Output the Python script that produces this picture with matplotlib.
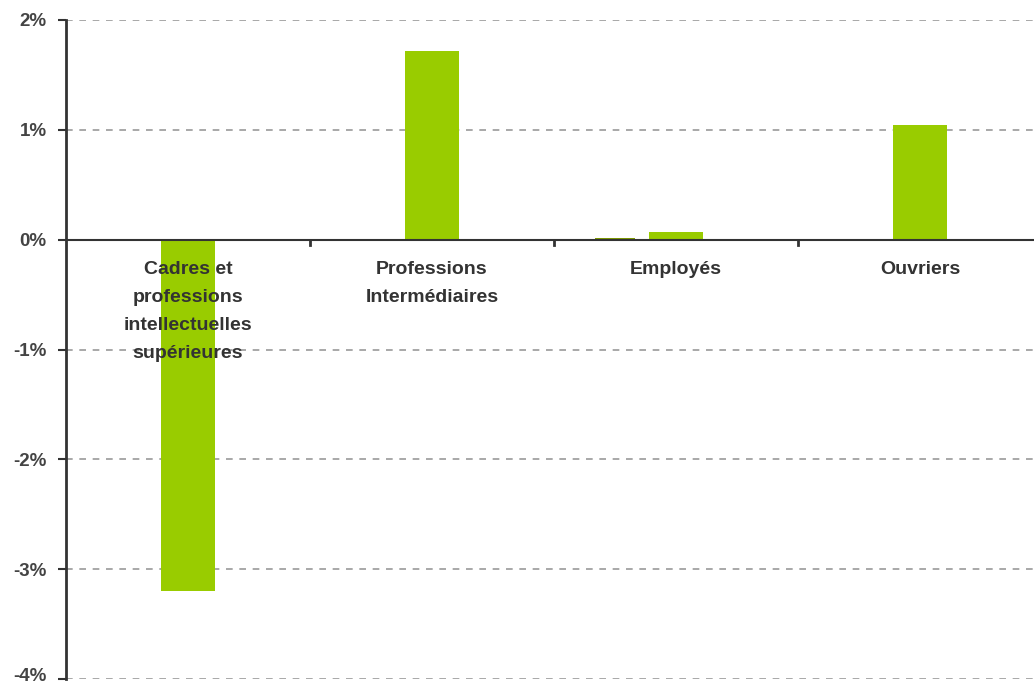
import matplotlib
matplotlib.use("Agg")
import matplotlib.pyplot as plt
import matplotlib.transforms as mtransforms
from matplotlib.ticker import FuncFormatter, FixedLocator
import numpy as np

categories = ["Cadres et\nprofessions\nintellectuelles\nsupérieures",
              "Professions\nIntermédiaires", "Employés", "Ouvriers"]
series_main = [-3.2, 1.72, 0.07, 1.04]
series_small = [0.0, 0.0, 0.015, 0.0]
yticks = [2, 1, 0, -1, -2, -3, -4]

plt.rcParams['font.family'] = ['Liberation Sans', 'DejaVu Sans']

fig = plt.figure(figsize=(10.34, 6.86), dpi=100)
ax = fig.add_axes([66/1034, 7/686, 968/1034, 659/686])

x = np.arange(len(categories))
width = 0.225
ax.bar(x, series_main, width=width, color='#99cc00', zorder=3)
ax.bar(x - 0.25, series_small, width=0.165, color='#7f9a00', zorder=3)

ax.set_xlim(-0.5, -0.5 + 968/244)
ax.set_ylim(-4, 2)
ax.yaxis.set_major_locator(FixedLocator(yticks))
ax.yaxis.set_major_formatter(FuncFormatter(lambda v, p: f"{int(round(v))}%"))
ax.grid(axis='y', linestyle=(0, (4, 4)), color='#999999', linewidth=1.2, zorder=0)
ax.axhline(0, color='#333333', linewidth=1.5, zorder=4)

for s in ['top', 'right', 'bottom']:
    ax.spines[s].set_visible(False)
ax.spines['left'].set_color('#333333')
ax.spines['left'].set_linewidth(2)

ax.set_xticks([])
ax.tick_params(axis='y', length=6, width=1.5, color='#333333',
               labelsize=13.5, labelcolor='#444444', pad=8)
fig.canvas.draw()
for lab in ax.get_yticklabels():
    lab.set_fontweight('bold')
    lab.set_verticalalignment('center_baseline')

# keep the bottom label inside the picture
lowest = ax.get_yticklabels()[-1]
lowest.set_transform(lowest.get_transform() +
                     mtransforms.ScaledTranslation(0, 3/72, fig.dpi_scale_trans))

# category boundary ticks on zero line
for b in x[:-1] + 0.5:
    ax.plot([b, b], [0, -0.05], color='#333333', linewidth=2, zorder=5)

for xi, lab in zip(x, categories):
    ax.text(xi, -0.19, lab, ha='center', va='top', fontsize=14,
            fontweight='bold', color='#333333', linespacing=1.85, zorder=6)

fig.savefig("out.png", dpi=100)
